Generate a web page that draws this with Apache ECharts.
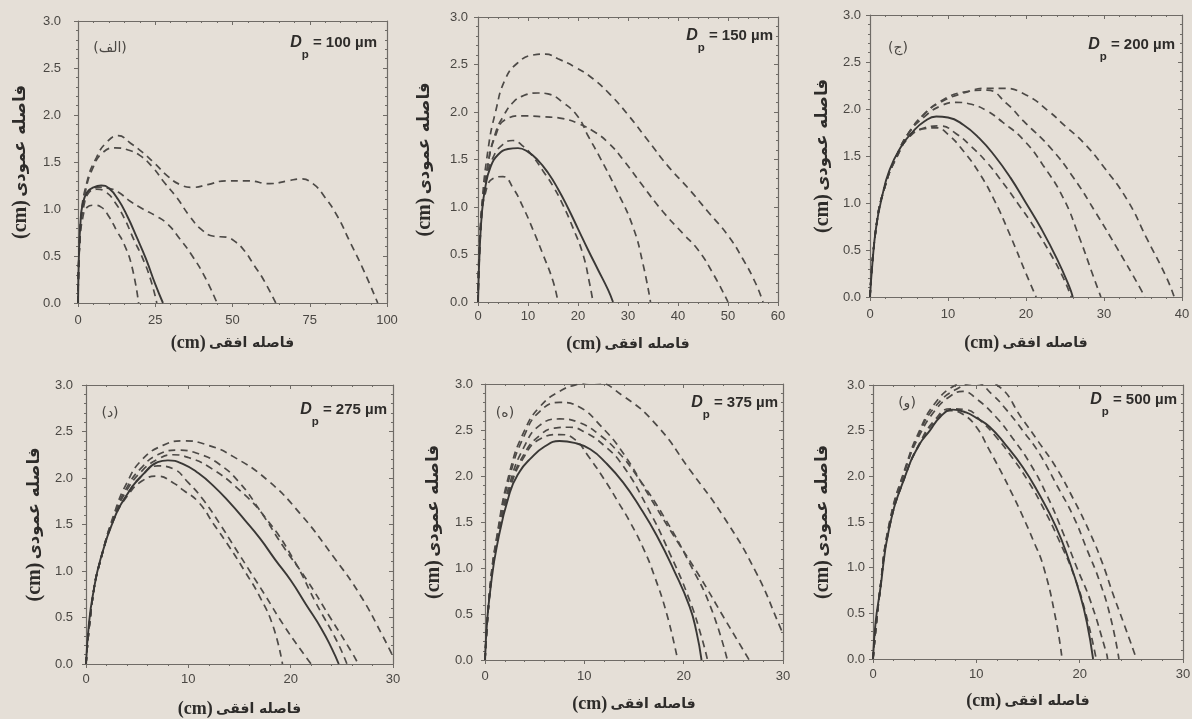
<!DOCTYPE html>
<html><head><meta charset="utf-8">
<script src="https://cdn.jsdelivr.net/npm/echarts@6/dist/echarts.min.js"></script>
<style>html,body{margin:0;padding:0;background:#e4ded6}#c{width:1192px;height:719px}</style>
</head><body><div id="c"></div><script>
// ---- Panel (الف) Dp = 100 µm ----
const dp100_solid = [[0,0],[0.3,0.5],[0.8,0.85],[1.5,1.05],[3,1.18],[5,1.23],[7.5,1.25],[10,1.22],[13,1.1],[16,0.92],[19,0.7],[22,0.47],[25,0.2],[27.5,0]];
const dp100_dash1 = [[0,0],[0.5,0.6],[1.5,0.9],[3,1.02],[5,1.04],[7.5,1.02],[10,0.92],[12.5,0.77],[15,0.62],[17.5,0.38],[19.6,0]];
const dp100_dash2 = [[0,0],[0.4,0.6],[1.2,0.95],[3,1.15],[6,1.21],[9,1.18],[12,1.07],[15,0.9],[18,0.68],[21,0.47],[23.5,0.25],[25.5,0]];
const dp100_dash3 = [[0,0],[0.6,0.7],[2,1.05],[4,1.2],[7,1.23],[10,1.22],[13,1.18],[17,1.08],[21,1.0],[25,0.93],[29,0.84],[33,0.68],[37,0.5],[41,0.28],[45,0]];
const dp100_dash4 = [[0,0],[0.8,0.8],[2.5,1.2],[5,1.45],[8,1.6],[12,1.65],[16,1.63],[20,1.57],[24,1.45],[28,1.28],[32,1.12],[36,0.93],[40,0.78],[44,0.71],[48,0.7],[51,0.65],[54,0.55],[57,0.4],[60,0.25],[64,0]];
const dp100_dash5 = [[0,0],[1,0.9],[3,1.3],[6,1.55],[9,1.7],[13,1.78],[17,1.7],[21,1.6],[25,1.48],[29,1.35],[33,1.26],[37,1.23],[42,1.26],[48,1.3],[55,1.3],[62,1.27],[68,1.3],[72,1.32],[76,1.27],[80,1.12],[84,0.92],[88,0.65],[92,0.38],[97,0]];
// ---- Dp = 150 µm ----
const dp150_solid = [[0,0],[0.3,0.5],[0.8,0.95],[1.5,1.22],[2.5,1.42],[4,1.55],[6,1.61],[8,1.62],[10,1.58],[12,1.49],[14,1.36],[16,1.19],[18,0.99],[20,0.77],[22,0.55],[24,0.34],[26,0.13],[27,0]];
const dp150_dash1 = [[0,0],[0.5,0.8],[1.5,1.15],[3,1.3],[5,1.32],[7,1.2],[9,1.0],[11,0.76],[13,0.5],[15,0.22],[16,0]];
const dp150_dash2 = [[0,0],[0.5,0.8],[1.5,1.25],[3,1.52],[5,1.66],[7,1.7],[9,1.64],[11,1.53],[13,1.38],[15,1.22],[17,1.02],[19,0.78],[21,0.5],[22.3,0.2],[23,0]];
const dp150_dash3 = [[0,0],[0.7,0.9],[2,1.45],[3.5,1.78],[5,1.95],[7,2.1],[9,2.17],[12,2.2],[14,2.19],[17,2.1],[20,1.95],[22,1.75],[24.3,1.53],[27.7,1.18],[31,0.79],[33,0.4],[34.5,0]];
const dp150_dash4 = [[0,0],[0.7,0.9],[2,1.45],[3.5,1.75],[5.5,1.92],[9,1.96],[13,1.95],[17,1.93],[20,1.88],[23,1.8],[26,1.68],[29,1.5],[33,1.22],[37,0.95],[41,0.72],[44,0.55],[47,0.3],[50,0]];
const dp150_dash5 = [[0,0],[0.8,1.0],[2,1.6],[3.5,2.0],[5.5,2.35],[8,2.52],[11,2.6],[13.5,2.61],[16,2.56],[19.5,2.47],[23,2.35],[26.5,2.18],[30,1.97],[34,1.7],[38,1.43],[42,1.2],[46,0.95],[50,0.7],[53,0.45],[55.5,0.2],[57,0]];
// ---- (ج) Dp = 200 µm ----
const dp200_solid = [[0,0],[0.3,0.35],[0.8,0.75],[1.5,1.05],[2.5,1.35],[4,1.6],[5.5,1.76],[7,1.87],[8.5,1.92],[10,1.91],[12,1.83],[14,1.69],[16,1.5],[18,1.27],[20,1.0],[22,0.72],[24,0.4],[25.5,0.12],[26,0]];
const dp200_dash1 = [[0,0],[0.8,0.75],[2,1.2],[3.5,1.5],[5,1.7],[7,1.79],[8.5,1.8],[10,1.73],[12,1.55],[14,1.32],[16,1.02],[18,0.65],[20,0.25],[21.3,0]];
const dp200_dash2 = [[0,0],[0.8,0.75],[2,1.2],[3.5,1.5],[5,1.7],[7,1.8],[9,1.82],[11,1.74],[13,1.6],[15,1.43],[17,1.22],[19,0.99],[21,0.75],[23,0.48],[24.8,0.2],[25.8,0]];
const dp200_dash3 = [[0,0],[0.8,0.75],[2,1.2],[3.5,1.52],[5,1.75],[7,1.92],[9,2.03],[11,2.07],[13,2.05],[15,1.98],[17,1.86],[19.7,1.67],[22.2,1.4],[24.8,1.05],[26.9,0.62],[28.5,0.25],[29.6,0]];
const dp200_dash4 = [[0,0],[0.8,0.75],[2,1.2],[3.5,1.52],[5,1.75],[7,1.95],[9,2.08],[12,2.18],[15,2.2],[17.5,2.06],[19.7,1.87],[23,1.6],[26,1.28],[29,0.89],[31.6,0.53],[34.6,0.1],[35.2,0]];
const dp200_dash5 = [[0,0],[0.8,0.75],[2,1.2],[3.5,1.52],[5,1.75],[7,1.95],[9,2.07],[12,2.17],[15,2.22],[17,2.22],[20,2.15],[23,1.97],[25,1.82],[27.4,1.64],[30,1.38],[33,1.03],[35.5,0.62],[38,0.21],[39,0]];
// ---- (د) Dp = 275 µm ----
const dp275_solid = [[0,0],[0.3,0.45],[0.7,0.76],[1.4,1.12],[2.7,1.55],[4,1.82],[5.5,2.03],[7,2.17],[8,2.19],[9.5,2.15],[11,2.05],[12.5,1.91],[14,1.74],[15.5,1.55],[17,1.35],[18.5,1.12],[20,0.9],[21.5,0.64],[23,0.38],[24,0.17],[24.7,0]];
const dp275_dash1 = [[0,0],[0.7,0.75],[1.5,1.15],[2.7,1.55],[4,1.8],[5.5,1.97],[7,2.02],[8.5,1.95],[9.5,1.87],[11,1.74],[12.5,1.5],[14,1.26],[15.5,1.0],[17,0.72],[18.3,0.4],[19.2,0]];
const dp275_dash2 = [[0,0],[0.7,0.75],[1.5,1.15],[2.7,1.55],[4,1.82],[5.5,2.03],[7,2.13],[8.5,2.1],[10,1.95],[11.5,1.76],[13,1.52],[14.5,1.26],[16,1.0],[17.5,0.74],[19.3,0.42],[21,0.15],[22,0]];
const dp275_dash3 = [[0,0],[0.7,0.75],[1.5,1.15],[2.7,1.57],[4,1.87],[5.5,2.08],[7,2.2],[8.5,2.25],[10,2.22],[12,2.12],[15,1.87],[17.7,1.55],[20.3,1.12],[22.5,0.65],[24.5,0.25],[25.5,0]];
const dp275_dash4 = [[0,0],[0.7,0.75],[1.5,1.15],[2.7,1.58],[4,1.9],[5.5,2.12],[7,2.25],[9,2.3],[11,2.26],[13,2.15],[15,1.95],[17,1.65],[19.3,1.26],[21.6,0.9],[23.8,0.51],[26,0.12],[26.6,0]];
const dp275_dash5 = [[0,0],[0.7,0.75],[1.5,1.15],[2.7,1.6],[4,1.95],[5.5,2.2],[7.5,2.35],[9.5,2.4],[12,2.35],[14.4,2.23],[17.7,1.98],[20.9,1.62],[24.2,1.15],[26.8,0.74],[29,0.3],[30,0.08]];
// ---- (ه) Dp = 375 µm ----
const dp375_solid = [[0,0],[0.2,0.4],[0.5,0.73],[1.2,1.24],[2.5,1.82],[3.5,2.05],[4.5,2.18],[6,2.32],[7.5,2.38],[9,2.36],[10.6,2.29],[12.2,2.14],[13.9,1.93],[15.6,1.66],[17.3,1.35],[19,0.98],[20.6,0.58],[21.3,0.3],[21.8,0]];
const dp375_dash1 = [[0,0],[0.5,0.75],[1.2,1.27],[2.5,1.86],[4,2.22],[5.5,2.4],[7.5,2.45],[9,2.4],[10.5,2.2],[12.2,1.93],[13.5,1.7],[14.6,1.5],[16,1.2],[17,0.93],[18.3,0.5],[19.4,0]];
const dp375_dash2 = [[0,0],[0.5,0.75],[1.2,1.27],[2.5,1.88],[4,2.25],[5.5,2.44],[7,2.52],[8.5,2.53],[10,2.48],[12,2.33],[13.9,2.11],[16.3,1.67],[18.6,1.16],[20.6,0.65],[21.8,0.25],[22.4,0]];
const dp375_dash3 = [[0,0],[0.5,0.76],[1.2,1.3],[2.5,1.92],[4,2.33],[5.5,2.55],[7.5,2.62],[9.5,2.58],[11.5,2.45],[13.5,2.25],[15.3,2.0],[18,1.56],[20.6,1.05],[22.7,0.58],[24.4,0]];
const dp375_dash4 = [[0,0],[0.5,0.77],[1.2,1.33],[2.5,2.0],[4,2.45],[5.5,2.7],[7.5,2.8],[9.5,2.75],[11.6,2.55],[13.9,2.25],[16.6,1.77],[19,1.35],[21.6,0.91],[24,0.47],[26.6,0]];
const dp375_dash5 = [[0,0],[0.5,0.78],[1.2,1.35],[2.5,2.05],[4,2.5],[5.5,2.75],[7.5,2.92],[9.5,3.0],[11,3.02],[13.9,2.87],[17.3,2.55],[20.6,2.07],[24,1.56],[27.3,0.95],[29.7,0.36],[30,0.28]];
// ---- (و) Dp = 500 µm ----
const dp500_solid = [[0,0],[0.25,0.4],[0.65,0.72],[1.6,1.45],[3.2,2.03],[4.5,2.35],[5.5,2.5],[6.5,2.65],[7.7,2.73],[9,2.7],[10,2.64],[11.3,2.54],[12.8,2.35],[14.5,2.1],[16,1.82],[17.7,1.45],[19,1.07],[20,0.72],[20.7,0.4],[21.3,0]];
const dp500_dash1 = [[0,0],[0.65,0.72],[1.6,1.45],[3.2,2.03],[4.5,2.35],[6,2.6],[7.5,2.72],[8.7,2.68],[10,2.54],[11.2,2.3],[12.3,2.07],[13.5,1.8],[14.5,1.56],[15.5,1.3],[16.5,1.01],[17.7,0.43],[18.3,0]];
const dp500_dash2 = [[0,0],[0.65,0.72],[1.6,1.45],[3.2,2.03],[4.5,2.36],[6,2.62],[7.5,2.74],[9,2.73],[10.5,2.6],[12,2.42],[13.5,2.2],[15,1.95],[16.5,1.65],[18,1.3],[19.5,0.9],[20.7,0.45],[21.6,0]];
const dp500_dash3 = [[0,0],[0.65,0.73],[1.6,1.48],[3.2,2.1],[4.5,2.45],[6,2.72],[7.5,2.88],[8.7,2.93],[10,2.85],[11.9,2.65],[13.5,2.42],[15.2,2.14],[16.8,1.8],[18.4,1.38],[19.8,0.98],[21,0.65],[22.6,0.06],[22.7,0]];
const dp500_dash4 = [[0,0],[0.65,0.73],[1.6,1.48],[3.2,2.1],[4.5,2.48],[6,2.76],[8,2.95],[10,3.02],[11.5,2.9],[12.9,2.73],[14.5,2.5],[16.1,2.25],[17.8,1.9],[19.4,1.56],[20.7,1.2],[21.9,0.86],[23,0.45],[23.8,0]];
const dp500_dash5 = [[0,0],[0.65,0.73],[1.6,1.5],[3.2,2.12],[4.5,2.5],[6,2.8],[8,3.0],[10,3.06],[12,3.0],[14.5,2.62],[16,2.38],[17.7,2.1],[19.4,1.75],[21,1.38],[22.2,1.05],[23.2,0.72],[24.3,0.38],[25.5,0]];

const panelTags = ['(الف)', '', '(ج)', '(د)', '(ه)', '(و)'];
const panelDp = ['100', '150', '200', '275', '375', '500'];
const xMaxes = [100, 60, 40, 30, 30, 30];
const xIntervals = [25, 10, 10, 10, 10, 10];
const xTitle = '(cm) فاصله افقی';
const yTitle = '(cm) فاصله عمودی';

const solids = [dp100_solid, dp150_solid, dp200_solid, dp275_solid, dp375_solid, dp500_solid];
const dashes = [
  [dp100_dash1, dp100_dash2, dp100_dash3, dp100_dash4, dp100_dash5],
  [dp150_dash1, dp150_dash2, dp150_dash3, dp150_dash4, dp150_dash5],
  [dp200_dash1, dp200_dash2, dp200_dash3, dp200_dash4, dp200_dash5],
  [dp275_dash1, dp275_dash2, dp275_dash3, dp275_dash4, dp275_dash5],
  [dp375_dash1, dp375_dash2, dp375_dash3, dp375_dash4, dp375_dash5],
  [dp500_dash1, dp500_dash2, dp500_dash3, dp500_dash4, dp500_dash5]
];

// layout (pixels)
const grids = [
  {left:78, top:21, width:309, height:282},
  {left:478, top:17, width:300, height:285},
  {left:870, top:15, width:312, height:282},
  {left:86, top:385, width:307, height:279},
  {left:485, top:384, width:298, height:276},
  {left:873, top:385, width:310, height:274}
];
const yNameGaps = [47, 43, 37, 41, 41, 40];
const xNameGaps = [31, 33, 37, 36, 35, 33];
const yLabelMargins = [17, 10, 9, 13, 12, 8];
const xLabelMargins = [11, 8, 11, 9, 10, 9];
const tagPos = [[110,48],[0,0],[898,48],[110,413],[505,413],[907,403]];
const dpPos = [[377,48],[773,41],[1175,50],[387,415],[778,408],[1177,405]];

const axisColor = '#6f6b66';
const lineColor = '#3a3836';
const labelStyle = {fontFamily:'Liberation Sans', fontSize:13, color:'#4a4743'};
const xNameRich = {
  a:{fontFamily:'Liberation Serif', fontWeight:'bold', fontSize:18, color:'#2e2c2a'},
  b:{fontFamily:'DejaVu Sans', fontWeight:'bold', fontSize:14, color:'#2e2c2a'}
};
const yNameRich = {
  a:{fontFamily:'Liberation Serif', fontWeight:'bold', fontSize:20, color:'#2e2c2a'},
  b:{fontFamily:'DejaVu Sans', fontWeight:'bold', fontSize:16.5, color:'#2e2c2a'}
};
function richName(s){ const i=s.indexOf(' '); return '{a|'+s.slice(0,i)+'} {b|'+s.slice(i+1)+'}'; }

const option = {
  animation:false,
  backgroundColor:'#e5dfd7',
  grid:[], xAxis:[], yAxis:[], series:[], graphic:[]
};

grids.forEach((g,i)=>{
  option.grid.push(Object.assign({containLabel:false, outerBoundsMode:'none', show:false}, g));
  const xi = xIntervals[i];
  option.xAxis.push({
    type:'value', gridIndex:i, min:0, max:xMaxes[i], interval:xi, position:'bottom',
    name:richName(xTitle), nameLocation:'middle', nameGap:xNameGaps[i],
    nameTextStyle:{rich:xNameRich},
    axisLine:{show:true, onZero:false, lineStyle:{color:axisColor, width:1.2}},
    axisTick:{show:true, inside:false, length:4, lineStyle:{color:axisColor}},
    minorTick:{show:true, splitNumber:5, length:2, lineStyle:{color:axisColor}},
    axisLabel:Object.assign({margin:xLabelMargins[i]}, labelStyle),
    splitLine:{show:false}
  });
  option.xAxis.push({
    type:'value', gridIndex:i, min:0, max:xMaxes[i], interval:xi, position:'top',
    axisLine:{show:true, onZero:false, lineStyle:{color:axisColor, width:1.2}},
    axisTick:{show:true, inside:true, length:4, lineStyle:{color:axisColor}},
    minorTick:{show:true, splitNumber:5, length:2, lineStyle:{color:axisColor}},
    axisLabel:{show:false}, splitLine:{show:false}
  });
  option.yAxis.push({
    type:'value', gridIndex:i, min:0, max:3, interval:0.5, position:'left',
    name:richName(yTitle), nameLocation:'middle', nameGap:yNameGaps[i],
    nameTextStyle:{rich:yNameRich},
    axisLine:{show:true, onZero:false, lineStyle:{color:axisColor, width:1.2}},
    axisTick:{show:true, inside:false, length:4, lineStyle:{color:axisColor}},
    minorTick:{show:true, splitNumber:5, length:2, lineStyle:{color:axisColor}},
    axisLabel:Object.assign({margin:yLabelMargins[i], formatter:v=>v.toFixed(1)}, labelStyle),
    splitLine:{show:false}
  });
  option.yAxis.push({
    type:'value', gridIndex:i, min:0, max:3, interval:0.5, position:'right',
    axisLine:{show:true, onZero:false, lineStyle:{color:axisColor, width:1.2}},
    axisTick:{show:true, inside:true, length:4, lineStyle:{color:axisColor}},
    minorTick:{show:true, splitNumber:5, length:2, lineStyle:{color:axisColor}},
    axisLabel:{show:false}, splitLine:{show:false}
  });
  dashes[i].forEach(d=>{
    option.series.push({
      type:'line', xAxisIndex:2*i, yAxisIndex:2*i, data:d, showSymbol:false, symbol:'none',
      smooth:0.5, clip:true, silent:true,
      lineStyle:{color:'#4d4a47', width:1.7, type:[7,5]}
    });
  });
  option.series.push({
    type:'line', xAxisIndex:2*i, yAxisIndex:2*i, data:solids[i], showSymbol:false, symbol:'none',
    smooth:0.5, clip:true, silent:true,
    lineStyle:{color:lineColor, width:1.9, type:'solid'}
  });
  if (panelTags[i]) {
    option.graphic.push({type:'text', x:tagPos[i][0], y:tagPos[i][1], silent:true,
      style:{text:panelTags[i], font:'14px "DejaVu Sans"', fill:'#4a4743', align:'center', verticalAlign:'middle'}});
  }
  option.graphic.push({type:'text', x:dpPos[i][0], y:dpPos[i][1], silent:true,
    style:{text:'{d|D}{s|p}{n| = '+panelDp[i]+' µm}', align:'right', verticalAlign:'middle',
      rich:{
        d:{fontFamily:'Liberation Sans', fontStyle:'italic', fontWeight:'bold', fontSize:16, fill:'#2e2c2a', verticalAlign:'top', lineHeight:26},
        s:{fontFamily:'Liberation Sans', fontWeight:'bold', fontSize:11.5, fill:'#2e2c2a', verticalAlign:'bottom', lineHeight:26},
        n:{fontFamily:'Liberation Sans', fontWeight:'bold', fontSize:15, fill:'#2e2c2a', verticalAlign:'top', lineHeight:26}
      }}});
});

const chart = echarts.init(document.getElementById('c'), null, {renderer:'canvas'});
chart.setOption(option);
</script></body></html>
